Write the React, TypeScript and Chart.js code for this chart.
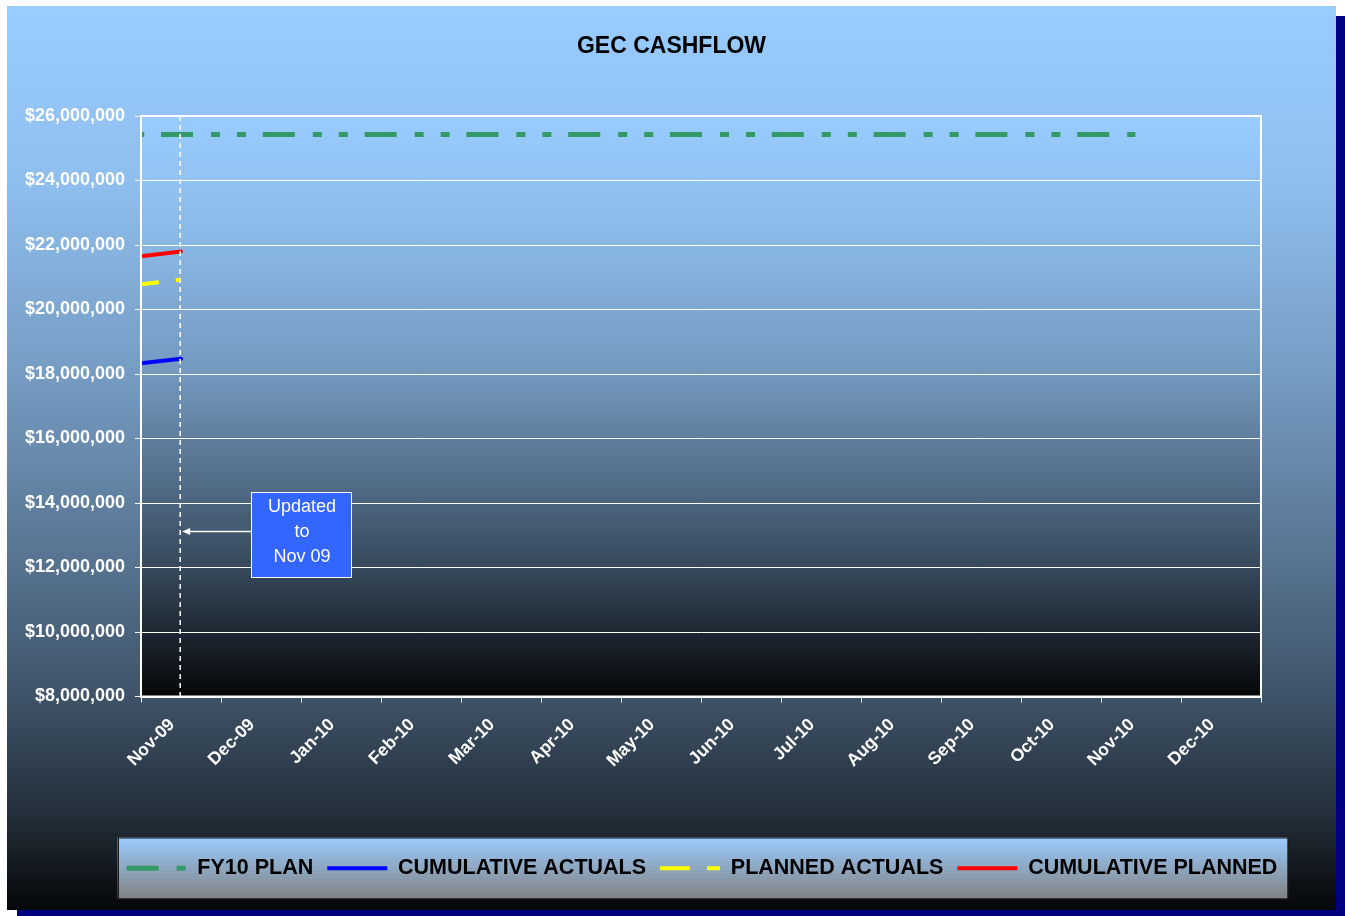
import React, { useEffect, useRef } from 'react';
import { Chart, registerables } from 'chart.js';

Chart.register(...registerables);

// ---- data ----
const monthLabels = ['Nov-09', 'Dec-09', 'Jan-10', 'Feb-10', 'Mar-10', 'Apr-10', 'May-10', 'Jun-10', 'Jul-10', 'Aug-10', 'Sep-10', 'Oct-10', 'Nov-10', 'Dec-10'];
const seriesNames = ['FY10 PLAN', 'CUMULATIVE ACTUALS', 'PLANNED ACTUALS', 'CUMULATIVE PLANNED'];
// x positions are months counted from Nov-09
const planMonths = [0, 12.43];
const fy10Plan = [25430000, 25430000];
const actualMonths = [0, 0.5];
const cumulativeActuals = [18330000, 18470000];
const plannedActuals = [20780000, 20930000];
const cumulativePlanned = [21650000, 21800000];
const yMin = 8000000;
const yMax = 26000000;
const yStep = 2000000;
const updatedMonth = 0.49;
const noteLines = ['Updated', 'to', 'Nov 09'];
const noteAnchor = { x0: 1.375, x1: 2.625, yTop: 14340000, yBottom: 11700000, arrowY: 13130000 };

const FONT = '"Liberation Sans", Arial, Helvetica, sans-serif';

const pts = (xs: number[], ys: number[]) => xs.map((x, i) => ({ x, y: ys[i] }));

const outerStops: [number, number][] = [[0, 1], [0.2, 0.93], [0.4, 0.77], [0.6, 0.58], [0.76, 0.41], [0.9, 0.22], [1, 0.03]];
const plotStops: [number, number][] = [[0, 1], [0.2, 0.91], [0.44, 0.75], [0.66, 0.5], [0.8, 0.33], [1, 0.03]];

function ramp(ctx: CanvasRenderingContext2D, y0: number, y1: number, stops: [number, number][]) {
  const g = ctx.createLinearGradient(0, y0, 0, y1);
  stops.forEach(([f, k]) => g.addColorStop(f, `rgb(${Math.round(153 * k)},${Math.round(204 * k)},${Math.round(255 * k)})`));
  return g;
}

const planDash = [32, 18, 9, 17, 9, 16.8];
const legendDash: (number[] | undefined)[] = [planDash, undefined, [30, 17], undefined];

const backdrop = {
  id: 'backdrop',
  afterLayout(chart: any) {
    const ca = chart.chartArea;
    const lg = chart.legend;
    if (lg) {
      lg.left = ca.left - 59;
      lg.right = ca.right + 61;
      lg.width = lg.right - lg.left;
    }
    const tb = chart.titleBlock;
    if (tb) {
      tb.left = 7;
      tb.right = chart.width - 9;
      tb.width = tb.right - tb.left;
    }
  },
  beforeDraw(chart: any) {
    const { ctx, chartArea: ca, width, height } = chart;
    ctx.save();
    ctx.fillStyle = '#000080';
    ctx.fillRect(17, 16, width - 17, height - 16);
    ctx.fillStyle = ramp(ctx, 6, height - 6, outerStops);
    ctx.fillRect(7, 6, width - 16, height - 12);
    ctx.fillStyle = ramp(ctx, ca.top, ca.bottom, plotStops);
    ctx.fillRect(ca.left, ca.top, ca.right - ca.left, ca.bottom - ca.top);
    const lg = chart.legend;
    if (lg && lg.legendHitBoxes && lg.legendHitBoxes.length) {
      const hb = lg.legendHitBoxes;
      const left = Math.min(...hb.map((b: any) => b.left)) - 9;
      const right = Math.max(...hb.map((b: any) => b.left + b.width)) + 10;
      const top = lg.top - 6;
      const bottom = lg.top + 55;
      const g = ctx.createLinearGradient(0, top, 0, bottom);
      g.addColorStop(0, '#99CCFF');
      g.addColorStop(1, '#828282');
      ctx.fillStyle = g;
      ctx.fillRect(left, top, right - left, bottom - top);
      ctx.strokeStyle = '#1a1a1a';
      ctx.lineWidth = 1;
      ctx.strokeRect(Math.round(left) + 0.5, top + 0.5, right - left, bottom - top);
    }
    ctx.restore();
  },
  afterDraw(chart: any) {
    const { ctx, chartArea: ca } = chart;
    const xs = chart.scales.x;
    const ys = chart.scales.y;
    ctx.save();
    // plot frame
    ctx.strokeStyle = '#ffffff';
    ctx.lineWidth = 2;
    ctx.strokeRect(ca.left, ca.top, ca.right - ca.left, ca.bottom - ca.top);
    // update marker
    const vx = xs.getPixelForValue(updatedMonth);
    ctx.lineWidth = 1.5;
    ctx.setLineDash([5, 4]);
    ctx.beginPath();
    ctx.moveTo(vx, ca.top);
    ctx.lineTo(vx, ca.bottom);
    ctx.stroke();
    ctx.setLineDash([]);
    // note box
    const bx0 = Math.round(xs.getPixelForValue(noteAnchor.x0));
    const bx1 = Math.round(xs.getPixelForValue(noteAnchor.x1));
    const by0 = Math.round(ys.getPixelForValue(noteAnchor.yTop));
    const by1 = Math.round(ys.getPixelForValue(noteAnchor.yBottom));
    ctx.fillStyle = '#3366FF';
    ctx.fillRect(bx0, by0, bx1 - bx0, by1 - by0);
    ctx.strokeStyle = '#ffffff';
    ctx.lineWidth = 1;
    ctx.strokeRect(bx0 + 0.5, by0 + 0.5, bx1 - bx0, by1 - by0);
    ctx.fillStyle = '#ffffff';
    ctx.font = `18px ${FONT}`;
    ctx.textAlign = 'center';
    ctx.textBaseline = 'middle';
    const cy = (by0 + by1) / 2 - 2;
    noteLines.forEach((t, i) => ctx.fillText(t, (bx0 + bx1) / 2 + 1, cy + (i - 1) * 25));
    // arrow
    const ay = Math.round(ys.getPixelForValue(noteAnchor.arrowY)) + 0.5;
    const tip = vx + 2;
    ctx.lineWidth = 1.5;
    ctx.beginPath();
    ctx.moveTo(bx0, ay);
    ctx.lineTo(tip + 5, ay);
    ctx.stroke();
    ctx.beginPath();
    ctx.moveTo(tip, ay);
    ctx.lineTo(tip + 8, ay - 3.5);
    ctx.lineTo(tip + 8, ay + 3.5);
    ctx.closePath();
    ctx.fill();
    ctx.restore();
  },
};

export default function App() {
  const ref = useRef<HTMLCanvasElement | null>(null);
  useEffect(() => {
    if (!ref.current) return;
    Chart.defaults.font.family = FONT;
    const chart = new Chart(ref.current, {
      type: 'line',
      data: {
        datasets: [
          {
            label: seriesNames[0],
            data: pts(planMonths, fy10Plan),
            borderColor: '#339966',
            backgroundColor: '#339966',
            borderWidth: 5,
            borderDash: planDash,
            borderDashOffset: 81.8,
            pointRadius: 0,
            fill: false,
          },
          {
            label: seriesNames[1],
            data: pts(actualMonths, cumulativeActuals),
            borderColor: '#0000FF',
            backgroundColor: '#0000FF',
            borderWidth: 4,
            pointRadius: 0,
            borderCapStyle: 'round',
            fill: false,
          },
          {
            label: seriesNames[2],
            data: pts(actualMonths, plannedActuals),
            borderColor: '#FFFF00',
            backgroundColor: '#FFFF00',
            borderWidth: 4,
            borderDash: [18, 17],
            pointRadius: 0,
            fill: false,
          },
          {
            label: seriesNames[3],
            data: pts(actualMonths, cumulativePlanned),
            borderColor: '#FF0000',
            backgroundColor: '#FF0000',
            borderWidth: 4,
            pointRadius: 0,
            borderCapStyle: 'round',
            fill: false,
          },
        ],
      },
      options: {
        responsive: false,
        animation: false,
        events: [],
        layout: { padding: { left: 15, right: 84, top: 10, bottom: 27 } },
        scales: {
          x: {
            type: 'linear',
            min: 0,
            max: monthLabels.length,
            afterFit: (s: any) => { s.height = 147; },
            grid: { display: true, drawOnChartArea: false, drawTicks: true, tickLength: 6, color: '#ffffff', lineWidth: 1 },
            border: { display: true, color: '#ffffff', width: 2 },
            ticks: {
              stepSize: 1,
              autoSkip: false,
              maxRotation: 45,
              minRotation: 45,
              labelOffset: 31,
              padding: 12,
              color: '#ffffff',
              font: { size: 17.5, weight: 'bold' },
              callback: (v: any) => monthLabels[Math.round(v)] ?? '',
            },
          },
          y: {
            type: 'linear',
            min: yMin,
            max: yMax,
            afterFit: (s: any) => { s.width = 126; },
            grid: { color: '#ffffff', lineWidth: 1, tickLength: 6 },
            border: { display: true, color: '#ffffff', width: 2 },
            ticks: {
              stepSize: yStep,
              padding: 10,
              color: '#ffffff',
              font: { size: 18, weight: 'bold' },
              callback: (v: any) => '$' + Number(v).toLocaleString('en-US'),
            },
          },
        },
        plugins: {
          title: {
            display: true,
            text: 'GEC CASHFLOW',
            color: '#000000',
            font: { size: 23, weight: 'bold' },
            padding: { top: 23, bottom: 55.4 },
          },
          legend: {
            display: true,
            position: 'bottom',
            labels: {
              usePointStyle: true,
              pointStyle: 'line',
              pointStyleWidth: 60,
              padding: 14,
              color: '#000000',
              font: { size: 21.5, weight: 'bold' },
              generateLabels: (c: any) =>
                c.data.datasets.map((ds: any, i: number) => ({
                  text: ds.label,
                  fillStyle: ds.borderColor,
                  strokeStyle: ds.borderColor,
                  lineWidth: ds.borderWidth,
                  lineDash: legendDash[i] ?? [],
                  lineDashOffset: 0,
                  lineCap: 'butt',
                  pointStyle: 'line',
                  hidden: false,
                  datasetIndex: i,
                  fontColor: '#000000',
                })),
            },
          },
          tooltip: { enabled: false },
        },
      },
      plugins: [backdrop],
    } as any);
    return () => chart.destroy();
  }, []);
  return (
    <div style={{ position: 'absolute', left: 0, top: 0, width: 1345, height: 916 }}>
      <canvas ref={ref} width={1345} height={916} style={{ display: 'block' }} />
    </div>
  );
}
